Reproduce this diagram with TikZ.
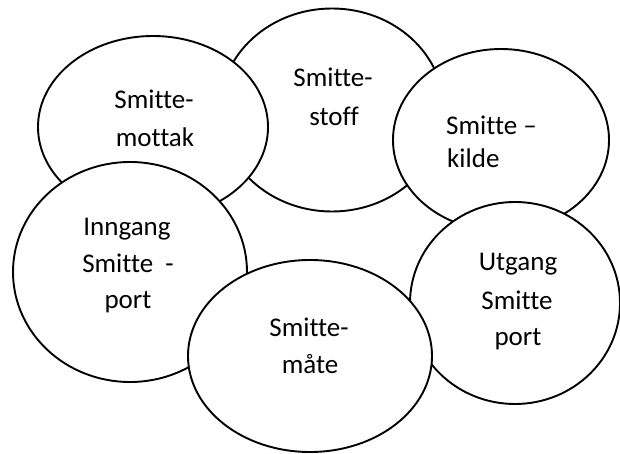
\documentclass[tikz,border=0pt]{standalone}
\usepackage{fontspec}
\setmainfont{Carlito}[RawFeature={-liga;-clig;-calt;-dlig}]
\usetikzlibrary{shapes.geometric}

\tikzset{
  circlebox/.style={ellipse, draw=black, fill=white, line width=1.9pt, inner sep=0pt},
  word/.style={font=\fontsize{27}{38}\selectfont, inner sep=0pt, anchor=base}
}

\begin{document}
\begin{tikzpicture}[x=1pt, y=-1pt]
  \useasboundingbox (0,0) rectangle (620,454);

  % the six links of the chain of infection, back to front
  \node[circlebox, minimum width=224pt, minimum height=203pt] (stoff)   at (332,110) {};
  \node[circlebox, minimum width=230pt, minimum height=182pt] (mottak)  at (153,127) {};
  \node[circlebox, minimum width=216pt, minimum height=182pt] (kilde)   at (501,140) {};
  \node[circlebox, minimum width=234pt, minimum height=220pt] (inngang) at (130,272) {};
  \node[circlebox, minimum width=210pt, minimum height=202pt] (utgang)  at (515,303) {};
  \node[circlebox, minimum width=244pt, minimum height=192pt] (maate)   at (310,356) {};

  % labels
  \node[word] (tmottak1) at (154,109) {Smitte-};
  \node[word] (tmottak2) at (155,147) {mottak};

  \node[word] (tstoff1) at (333,87) {Smitte-};
  \node[word] (tstoff2) at (334,126) {stoff};

  \node[word, anchor=base west] (tkilde1) at (446,135) {Smitte –};
  \node[word, anchor=base west] (tkilde2) at (447,168) {kilde};

  \node[word] (tinngang1) at (127,235) {Inngang};
  \node[word] (tinngang2) at (128,272) {Smitte\ \ -};
  \node[word] (tinngang3) at (128,308) {port};

  \node[word] (tutgang1) at (518,270) {Utgang};
  \node[word] (tutgang2) at (517,309) {Smitte};
  \node[word] (tutgang3) at (518,345) {port};

  \node[word] (tmaate1) at (309,336) {Smitte-};
  \node[word] (tmaate2) at (310,373) {måte};
\end{tikzpicture}
\end{document}
